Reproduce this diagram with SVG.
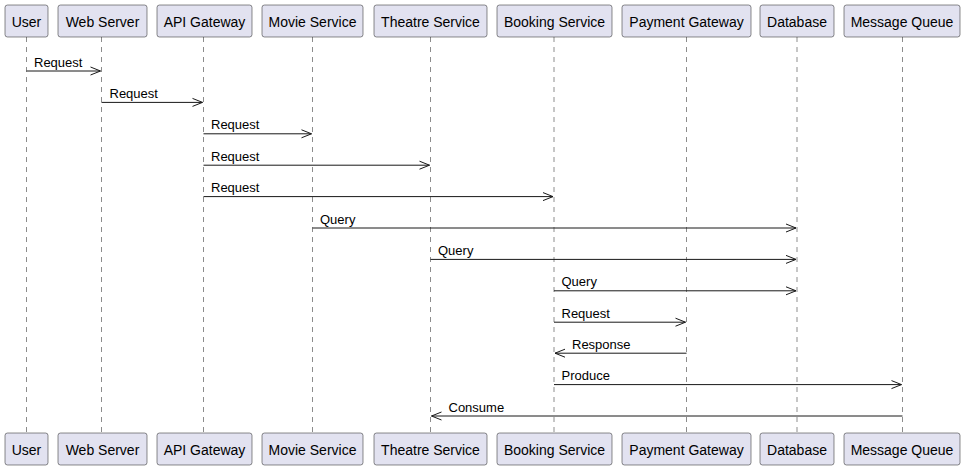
<svg xmlns="http://www.w3.org/2000/svg" width="966" height="470" viewBox="0 0 966 470">
<style>
.box{fill:#E2E2F0;stroke:#181818;stroke-width:0.5}
.pt{font-family:"Liberation Sans",Arial,sans-serif;font-size:14px;fill:#000;text-anchor:middle}
.life{stroke:#181818;stroke-width:0.5;stroke-dasharray:5,5;fill:none}
.msg{stroke:#181818;stroke-width:1;fill:none}
.ml{font-family:"Liberation Sans",Arial,sans-serif;font-size:13px;fill:#000}
</style>
<rect width="966" height="470" fill="#FFFFFF"/>
<g id="lifelines">
<line class="life" x1="26.5" y1="37" x2="26.5" y2="433"/>
<line class="life" x1="101.5" y1="37" x2="101.5" y2="433"/>
<line class="life" x1="203.5" y1="37" x2="203.5" y2="433"/>
<line class="life" x1="312.5" y1="37" x2="312.5" y2="433"/>
<line class="life" x1="430.5" y1="37" x2="430.5" y2="433"/>
<line class="life" x1="554" y1="37" x2="554" y2="433"/>
<line class="life" x1="686.5" y1="37" x2="686.5" y2="433"/>
<line class="life" x1="797" y1="37" x2="797" y2="433"/>
<line class="life" x1="902.5" y1="37" x2="902.5" y2="433"/>
</g>
<g id="user">
<rect class="box" x="5" y="5" width="43" height="32" rx="2.5"/><text class="pt" x="26.5" y="26.5">User</text>
<rect class="box" x="5" y="433" width="43" height="32" rx="2.5"/><text class="pt" x="26.5" y="454.5">User</text>
</g>
<g id="web-server">
<rect class="box" x="58" y="5" width="89" height="32" rx="2.5"/><text class="pt" x="102.5" y="26.5">Web Server</text>
<rect class="box" x="58" y="433" width="89" height="32" rx="2.5"/><text class="pt" x="102.5" y="454.5">Web Server</text>
</g>
<g id="api-gateway">
<rect class="box" x="157" y="5" width="95" height="32" rx="2.5"/><text class="pt" x="204.5" y="26.5">API Gateway</text>
<rect class="box" x="157" y="433" width="95" height="32" rx="2.5"/><text class="pt" x="204.5" y="454.5">API Gateway</text>
</g>
<g id="movie-service">
<rect class="box" x="262" y="5" width="101" height="32" rx="2.5"/><text class="pt" x="312.5" y="26.5">Movie Service</text>
<rect class="box" x="262" y="433" width="101" height="32" rx="2.5"/><text class="pt" x="312.5" y="454.5">Movie Service</text>
</g>
<g id="theatre-service">
<rect class="box" x="374" y="5" width="113" height="32" rx="2.5"/><text class="pt" x="430.5" y="26.5">Theatre Service</text>
<rect class="box" x="374" y="433" width="113" height="32" rx="2.5"/><text class="pt" x="430.5" y="454.5">Theatre Service</text>
</g>
<g id="booking-service">
<rect class="box" x="497" y="5" width="115" height="32" rx="2.5"/><text class="pt" x="554.5" y="26.5">Booking Service</text>
<rect class="box" x="497" y="433" width="115" height="32" rx="2.5"/><text class="pt" x="554.5" y="454.5">Booking Service</text>
</g>
<g id="payment-gateway">
<rect class="box" x="622" y="5" width="129" height="32" rx="2.5"/><text class="pt" x="686.5" y="26.5">Payment Gateway</text>
<rect class="box" x="622" y="433" width="129" height="32" rx="2.5"/><text class="pt" x="686.5" y="454.5">Payment Gateway</text>
</g>
<g id="database">
<rect class="box" x="760" y="5" width="74" height="32" rx="2.5"/><text class="pt" x="797" y="26.5">Database</text>
<rect class="box" x="760" y="433" width="74" height="32" rx="2.5"/><text class="pt" x="797" y="454.5">Database</text>
</g>
<g id="message-queue">
<rect class="box" x="844" y="5" width="116" height="32" rx="2.5"/><text class="pt" x="902" y="26.5">Message Queue</text>
<rect class="box" x="844" y="433" width="116" height="32" rx="2.5"/><text class="pt" x="902" y="454.5">Message Queue</text>
</g>
<g id="connectors">
<line class="msg" x1="26.5" y1="71" x2="100.5" y2="71"/><polyline class="msg" points="90.5,67 100.5,71 90.5,75"/><text class="ml" x="34" y="66.5">Request</text>
<line class="msg" x1="101.5" y1="102.4" x2="202.5" y2="102.4"/><polyline class="msg" points="192.5,98.4 202.5,102.4 192.5,106.4"/><text class="ml" x="109.5" y="97.9">Request</text>
<line class="msg" x1="203.5" y1="133.8" x2="311.5" y2="133.8"/><polyline class="msg" points="301.5,129.8 311.5,133.8 301.5,137.8"/><text class="ml" x="211" y="129.3">Request</text>
<line class="msg" x1="203.5" y1="165.2" x2="429.5" y2="165.2"/><polyline class="msg" points="419.5,161.2 429.5,165.2 419.5,169.2"/><text class="ml" x="211" y="160.7">Request</text>
<line class="msg" x1="203.5" y1="196.6" x2="553" y2="196.6"/><polyline class="msg" points="543,192.6 553,196.6 543,200.6"/><text class="ml" x="211" y="192.1">Request</text>
<line class="msg" x1="312.5" y1="228" x2="796" y2="228"/><polyline class="msg" points="786,224 796,228 786,232"/><text class="ml" x="320" y="223.5">Query</text>
<line class="msg" x1="430.5" y1="259.4" x2="796" y2="259.4"/><polyline class="msg" points="786,255.4 796,259.4 786,263.4"/><text class="ml" x="438" y="254.9">Query</text>
<line class="msg" x1="554" y1="290.8" x2="796" y2="290.8"/><polyline class="msg" points="786,286.8 796,290.8 786,294.8"/><text class="ml" x="561.5" y="286.3">Query</text>
<line class="msg" x1="554" y1="322.2" x2="685.5" y2="322.2"/><polyline class="msg" points="675.5,318.2 685.5,322.2 675.5,326.2"/><text class="ml" x="561.5" y="317.7">Request</text>
<line class="msg" x1="555" y1="353.2" x2="686.5" y2="353.2"/><polyline class="msg" points="565,349.2 555,353.2 565,357.2"/><text class="ml" x="572" y="348.7">Response</text>
<line class="msg" x1="554" y1="384.6" x2="901.5" y2="384.6"/><polyline class="msg" points="891.5,380.6 901.5,384.6 891.5,388.6"/><text class="ml" x="561.5" y="380.1">Produce</text>
<line class="msg" x1="431.5" y1="416" x2="902.5" y2="416"/><polyline class="msg" points="441.5,412 431.5,416 441.5,420"/><text class="ml" x="448.5" y="411.5">Consume</text>
</g>
</svg>
